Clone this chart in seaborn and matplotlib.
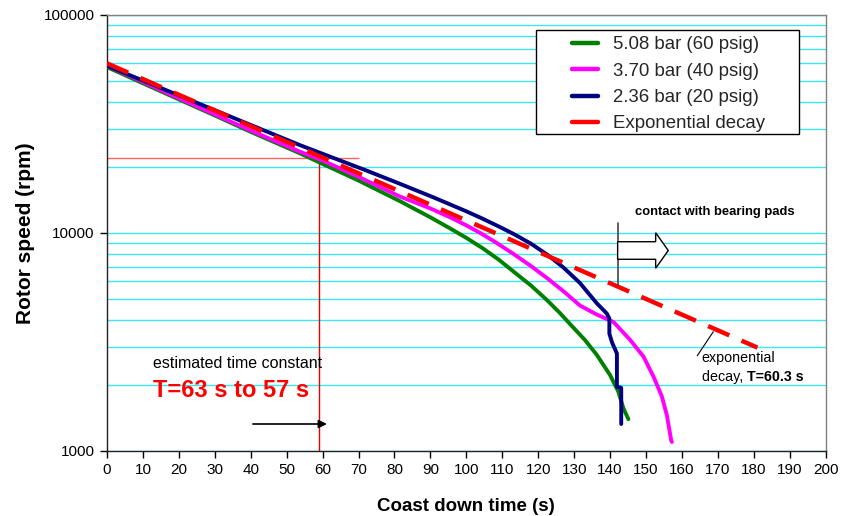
import numpy as np
import pandas as pd
import matplotlib
matplotlib.use("Agg")
import matplotlib.pyplot as plt
from matplotlib.lines import Line2D
from matplotlib.patches import Rectangle, Polygon
from matplotlib.ticker import FixedLocator, FuncFormatter, LogLocator
import seaborn as sns

# Coast-down measurements: time (s) and rotor speed (rpm)
t_508 = [0, 10, 20, 30, 40, 53.7, 59.3, 70, 81.5, 90, 95.5, 100, 104.7, 109,
         113.1, 118, 122.4, 126, 129, 133, 136.3, 140, 142.3, 143.7, 145.1]
rpm_508 = [57700, 48600, 41000, 34600, 29100, 23200, 21000, 17400, 14000, 11800,
           10490, 9500, 8480, 7550, 6660, 5740, 4930, 4300, 3800, 3230, 2760,
           2230, 1870, 1570, 1400]

t_370 = [0, 10, 20, 30, 40, 53.7, 60, 70, 81.5, 90, 95.5, 100, 104, 108, 113.1,
         118, 122.4, 127, 131.6, 136, 141, 145.6, 149.3, 152.1, 154.4, 155.8,
         157, 157.2]
rpm_370 = [58500, 49300, 41500, 35000, 29500, 23600, 21500, 18100, 14700, 12960,
           11800, 10840, 9970, 9100, 8020, 7050, 6220, 5410, 4650, 4250, 3900,
           3230, 2710, 2190, 1780, 1460, 1120, 1100]

t_236 = [0, 10, 20, 30, 40, 53.7, 60, 72.2, 81.5, 90.8, 100, 104, 109, 113.1,
         118, 122.4, 127, 131.6, 136.3, 139.1, 139.8, 139.8, 140.6, 141.9, 141.9,
         143.1, 143.1]
rpm_236 = [58500, 50000, 42770, 36600, 31300, 25300, 23080, 19340, 16820, 14580,
           12570, 11740, 10720, 9910, 8930, 7980, 6950, 5900, 4760, 4270, 4050,
           3450, 3130, 2800, 1970, 1950, 1330]

# Exponential decay fit, T = 60.3 s (straight line on the log axis)
t_exp = [0, 181]
rpm_exp = [60000, 2980]

series_labels = ["5.08 bar (60 psig)", "3.70 bar (40 psig)",
                 "2.36 bar (20 psig)", "Exponential decay"]
series_colors = ["#008000", "#ff00ff", "#000080", "#ff0000"]

x_ticks = list(range(0, 201, 10))
y_ticks = [1000, 10000, 100000]

# Time-constant estimate marker
ref_time = 59.1
ref_rpm = 22000
ref_time_end = 70
arrow_t = [40.6, 61.2]
arrow_rpm = 1330

sns.set_theme(style="white")
plt.rcParams["font.family"] = ["Liberation Sans", "DejaVu Sans"]

fig = plt.figure(figsize=(8.42, 5.16), dpi=100)
ax = fig.add_axes([107 / 842, 1 - 451 / 516, 718.7 / 842, 436 / 516])
ax.set_facecolor("white")

frames = []
for lab, tt, rr in zip(series_labels[:3], [t_508, t_370, t_236],
                       [rpm_508, rpm_370, rpm_236]):
    frames.append(pd.DataFrame({"t": tt, "rpm": rr, "series": lab}))
df = pd.concat(frames, ignore_index=True)
df_exp = pd.DataFrame({"t": t_exp, "rpm": rpm_exp})

ax.set_yscale("log")
for i, lab in enumerate(series_labels[:3]):
    sub = df[df["series"] == lab]
    sns.lineplot(data=sub, x="t", y="rpm", color=series_colors[i], lw=2.8,
                 sort=False, estimator=None, ax=ax, zorder=3 + i * 0.1,
                 legend=False)
sns.lineplot(data=df_exp, x="t", y="rpm", color=series_colors[3], lw=3.2,
             sort=False, estimator=None, ax=ax, zorder=3.5, legend=False)
ax.lines[-1].set_dashes([5.2, 3])
ax.lines[-1].set_dash_capstyle("butt")

ax.set_xlim(0, 200)
ax.set_ylim(1000, 100000)

# Grid: cyan lines at every log subdivision
ax.yaxis.set_major_locator(FixedLocator(y_ticks))
ax.yaxis.set_minor_locator(LogLocator(base=10, subs=np.arange(2, 10)))
ax.yaxis.set_major_formatter(FuncFormatter(lambda v, p: f"{int(v)}"))
ax.yaxis.set_minor_formatter(FuncFormatter(lambda v, p: ""))
ax.grid(True, axis="y", which="both", color="#3ee6f2", lw=1.0, zorder=0)
ax.grid(False, axis="x")
ax.set_xticks(x_ticks)

ax.tick_params(axis="both", which="major", direction="out", length=5,
               width=1, color="black", labelsize=11, labelcolor="black",
               left=True, bottom=True, pad=4)
ax.tick_params(axis="y", which="minor", length=0)

for s in ["left", "bottom"]:
    ax.spines[s].set_color("#222222")
    ax.spines[s].set_linewidth(1.0)
for s in ["top", "right"]:
    ax.spines[s].set_color("#808080")
    ax.spines[s].set_linewidth(1.0)

ax.set_xlabel("Coast down time (s)", fontsize=13.5, fontweight="bold",
              color="black", labelpad=15)
ax.set_ylabel("Rotor speed (rpm)", fontsize=15, fontweight="bold",
              color="black", labelpad=6)

# Time-constant reference lines
ax.hlines(ref_rpm, 0, ref_time_end, color="#ff6060", lw=1.0, zorder=2)
ax.vlines(ref_time, 1000, ref_rpm, color="#e80000", lw=1.0, zorder=2)
ax.annotate("", xy=(arrow_t[1], arrow_rpm), xytext=(arrow_t[0], arrow_rpm),
            arrowprops=dict(arrowstyle="-|>", color="black", lw=1.2,
                            mutation_scale=12, shrinkA=0, shrinkB=0))

ax.text(0.0636, 0.2018, "estimated time constant", transform=ax.transAxes,
        fontsize=11.5, color="black", va="center", ha="left")
ax.text(0.0636, 0.1399, "T=63 s to 57 s", transform=ax.transAxes,
        fontsize=17, fontweight="bold", color="#ff0000", va="center",
        ha="left")

# Bearing-pad contact marker
ax.text(0.7347, 0.5489, "contact with bearing pads", transform=ax.transAxes,
        fontsize=9.4, fontweight="bold", color="black", va="center",
        ha="left")
ax.plot([0.7105, 0.7105], [0.3807, 0.5222], transform=ax.transAxes,
        color="#444444", lw=1.2, zorder=6)
block = Polygon([(0.7105, 0.480), (0.7634, 0.480), (0.7634, 0.5007),
                 (0.7809, 0.4599), (0.7634, 0.419), (0.7634, 0.4397),
                 (0.7105, 0.4397)], closed=True, transform=ax.transAxes,
                facecolor="white", edgecolor="black", lw=1.0, zorder=6)
ax.add_patch(block)

# Exponential-decay callout
ax.plot([0.8213, 0.8436], [0.2186, 0.2736], transform=ax.transAxes,
        color="black", lw=0.8, zorder=6)
ax.text(0.8275, 0.2133, "exponential", transform=ax.transAxes,
        fontsize=10.3, color="black", va="center", ha="left")
t1 = ax.text(0.8275, 0.1704, "decay, ", transform=ax.transAxes,
             fontsize=10.3, color="black", va="center", ha="left")
ax.annotate("T=60.3 s", xy=(1, 0), xycoords=t1, fontsize=10.3,
            fontweight="bold", color="black", va="bottom", ha="left")

# Legend with a plain black frame
frame = Rectangle((0.5965, 0.727), 0.963 - 0.5965, 0.9656 - 0.727,
                  transform=ax.transAxes, facecolor="white",
                  edgecolor="black", lw=1.0, zorder=7)
ax.add_patch(frame)
handles = [Line2D([], [], color=c, lw=3.2) for c in series_colors]
leg = ax.legend(handles, series_labels, loc="upper left",
                bbox_to_anchor=(0.6465, 0.951), frameon=False, fontsize=13.4,
                handlelength=1.43, handletextpad=0.79, labelspacing=0.5,
                borderpad=0, borderaxespad=0)
leg.set_zorder(8)

fig.savefig("out.png", dpi=100, facecolor="white")
